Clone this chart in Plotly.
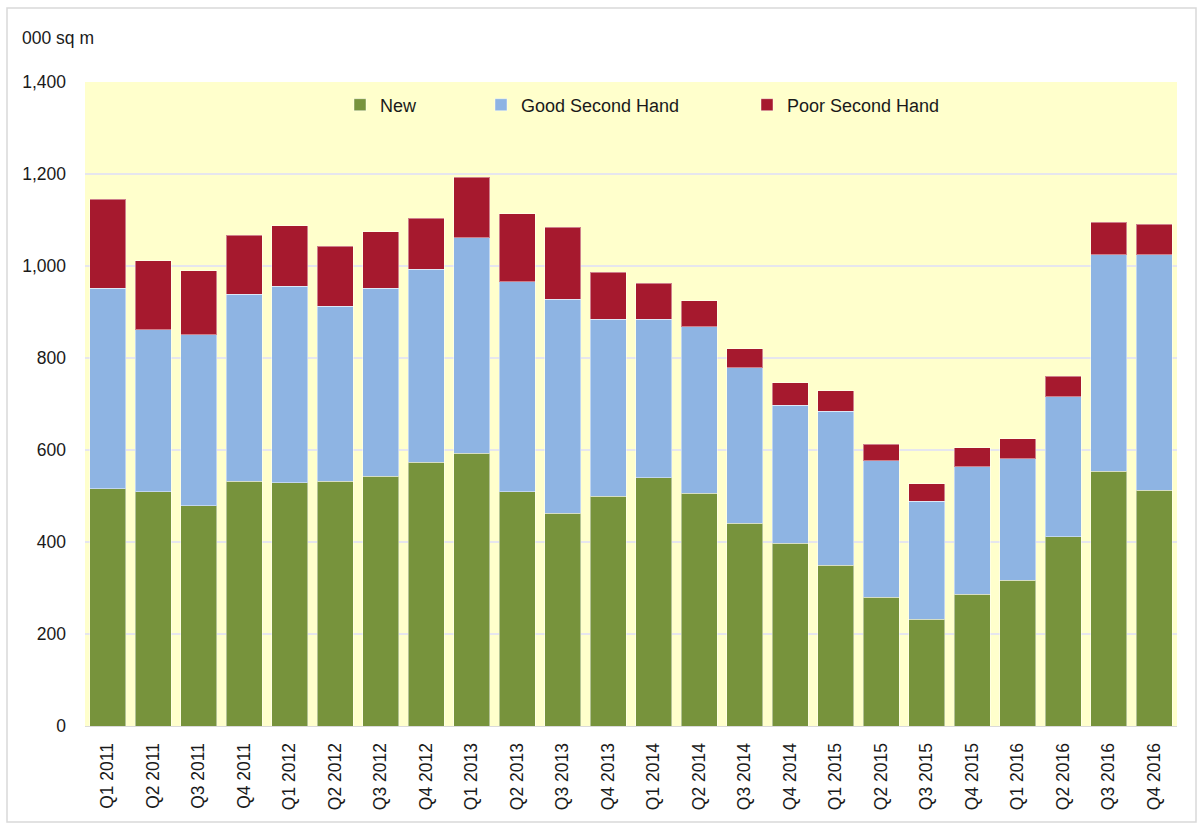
import plotly.graph_objects as go

quarters = ["Q1 2011", "Q2 2011", "Q3 2011", "Q4 2011",
            "Q1 2012", "Q2 2012", "Q3 2012", "Q4 2012",
            "Q1 2013", "Q2 2013", "Q3 2013", "Q4 2013",
            "Q1 2014", "Q2 2014", "Q3 2014", "Q4 2014",
            "Q1 2015", "Q2 2015", "Q3 2015", "Q4 2015",
            "Q1 2016", "Q2 2016", "Q3 2016", "Q4 2016"]

new = [516, 509, 479, 532, 529, 532, 543, 573, 593, 509, 462, 499,
       540, 506, 441, 397, 349, 280, 232, 286, 317, 411, 554, 513]
good_second_hand = [436, 352, 372, 407, 427, 380, 409, 420, 468, 457, 466, 385,
                    344, 362, 338, 300, 335, 297, 257, 278, 264, 305, 470, 511]
poor_second_hand = [193, 150, 139, 128, 132, 131, 122, 111, 132, 148, 156, 102,
                    78, 57, 41, 49, 45, 35, 38, 41, 44, 44, 71, 67]

y_ticks = [0, 200, 400, 600, 800, 1000, 1200, 1400]

FONT = "Liberation Sans, Arial, sans-serif"
W, H = 1198, 828
L, R, T, B = 85, 21, 82, 102
PW = W - L - R
PH = H - T - B


def px_x(p):
    return (p - L) / PW


def px_y(p):
    return (H - B - p) / PH


outline = dict(color="rgba(255,255,255,0.45)", width=1)

fig = go.Figure()
fig.add_trace(go.Bar(x=quarters, y=new, name="New", showlegend=True,
                     marker=dict(color="#77933C", line=outline), legend="legend"))
fig.add_trace(go.Bar(x=quarters, y=good_second_hand, name="Good Second Hand", showlegend=True,
                     marker=dict(color="#8EB4E3", line=outline), legend="legend2"))
fig.add_trace(go.Bar(x=quarters, y=poor_second_hand, name="Poor Second Hand", showlegend=True,
                     marker=dict(color="#A6192E", line=outline), legend="legend3"))

leg_common = dict(orientation="h", yanchor="middle", xanchor="left",
                  bgcolor="rgba(0,0,0,0)", borderwidth=0,
                  font=dict(family=FONT, size=18, color="#1a1a1a"),
                  itemwidth=30)

fig.update_layout(
    width=W, height=H,
    margin=dict(l=L, r=R, t=T, b=B, pad=0),
    barmode="stack",
    bargap=0.2,
    showlegend=True,
    paper_bgcolor="white",
    plot_bgcolor="#FFFFCC",
    font=dict(family=FONT, size=17.5, color="#1a1a1a"),
    legend=dict(x=px_x(340), y=px_y(105), **leg_common),
    legend2=dict(x=px_x(481), y=px_y(105), **leg_common),
    legend3=dict(x=px_x(747), y=px_y(105), **leg_common),
    xaxis=dict(
        tickangle=-90,
        showgrid=False,
        showline=True, linecolor="#DADADA", linewidth=1,
        ticks="", ticklabelstandoff=9,
        tickfont=dict(family=FONT, size=17.5, color="#1a1a1a"),
    ),
    yaxis=dict(
        range=[0, 1400],
        tickvals=y_ticks,
        ticktext=[f"{v:,}" for v in y_ticks],
        showgrid=True, gridcolor="#E6E6EE", gridwidth=1.5,
        zeroline=False,
        showline=False,
        ticks="", ticklabelstandoff=18,
        tickfont=dict(family=FONT, size=17.5, color="#1a1a1a"),
    ),
    annotations=[dict(
        text="000 sq m", xref="paper", yref="paper",
        x=px_x(20), y=px_y(38), xanchor="left", yanchor="middle",
        showarrow=False, font=dict(family=FONT, size=17.5, color="#1a1a1a"),
    )],
    shapes=[dict(
        type="rect", xref="paper", yref="paper", layer="below",
        x0=px_x(7), x1=px_x(1196), y0=px_y(822), y1=px_y(8),
        line=dict(color="#D9D9D9", width=1.5), fillcolor="rgba(0,0,0,0)",
    )],
)

fig.write_html("out.html", config={"displayModeBar": False},
               post_script="document.body.style.margin='0';document.body.style.padding='0';")
